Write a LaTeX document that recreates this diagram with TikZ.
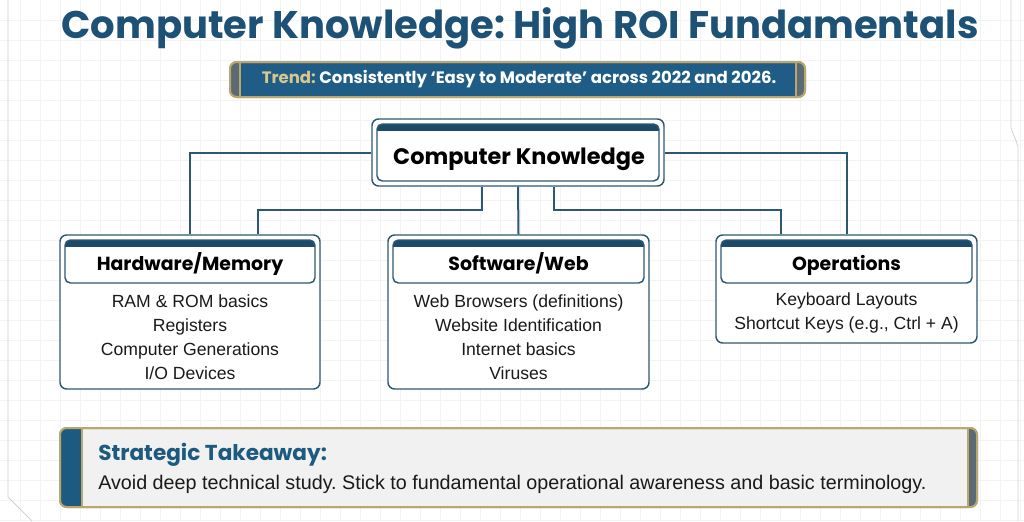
\documentclass[tikz,border=0pt]{standalone}
\usepackage{fontspec}
\setmainfont{Liberation Sans}
\newfontfamily\headfont{Poppins}
\usetikzlibrary{calc}
\frenchspacing
\definecolor{titleblue}{HTML}{1D5276}
\definecolor{stripblue}{HTML}{1C4A6B}
\definecolor{boxblue}{HTML}{2D5872}
\definecolor{connblue}{HTML}{2D5872}
\definecolor{bannerblue}{HTML}{1F5D86}
\definecolor{gold}{HTML}{BBA76E}
\definecolor{goldtext}{HTML}{D8C78E}
\definecolor{greystrip}{HTML}{5B6B75}
\definecolor{takefill}{HTML}{F1F1F1}
\definecolor{takeblue}{HTML}{1D5A80}
\definecolor{textblack}{HTML}{1A1A1A}
\definecolor{gridc}{HTML}{F3F3F3}
\tikzset{
  outerbox/.style={draw=boxblue, line width=1.1pt, rounded corners=5pt, fill=white, inner sep=0pt},
  conn/.style={draw=connblue, line width=1.5pt},
  itemtext/.style={font=\fontsize{13.2}{18}\selectfont, text=textblack, align=center, inner sep=0pt},
  headtext/.style={font=\headfont\bfseries\fontsize{14.2}{16}\selectfont, text=black, inner sep=0pt, anchor=base},
  gridline/.style={draw=gridc, line width=0.5pt},
  frameline/.style={draw=black!18, line width=0.6pt},
}
\newcommand\strippedbox[4]{%
  \begin{scope}
    \clip[rounded corners=4pt] (#1,#2) rectangle (#3,#4);
    \fill[white] (#1,#2) rectangle (#3,#4);
    \fill[stripblue] (#1,#2) rectangle (#3,{#2+7});
  \end{scope}
  \draw[draw=boxblue, line width=1.1pt, rounded corners=4pt] (#1,#2) rectangle (#3,#4);
}
\begin{document}
\begin{tikzpicture}[x=0.75pt,y=-0.75pt]
\useasboundingbox (0,0) rectangle (1024,521);
\fill[white] (0,0) rectangle (1024,521);
\foreach \x in {20,40,...,1020} \draw[gridline] (\x,0) -- (\x,521);
\foreach \y in {20,40,...,520} \draw[gridline] (0,\y) -- (1024,\y);
\draw[frameline] (8,0) -- (8,497) -- (32,521);
\draw[frameline] (1011,0) -- (1011,128) -- (1018,146) -- (1018,521);

% title
\node[font=\headfont\bfseries\fontsize{28.9}{32}\selectfont, text=titleblue, inner sep=0pt] (title) at (520,28) {Computer Knowledge: High ROI Fundamentals};

% trend banner
\node[draw=gold, line width=1.5pt, fill=bannerblue, rounded corners=5pt, minimum width=431.25pt, minimum height=26.25pt, inner sep=0pt] (trend) at (517.5,79.5) {};
\begin{scope}
  \clip[rounded corners=5pt] (230,62) rectangle (805,97);
  \fill[greystrip] (230,62) rectangle (240,97);
  \fill[greystrip] (796,62) rectangle (805,97);
\end{scope}
\draw[draw=gold, line width=1.5pt, rounded corners=5pt] (230,62) rectangle (805,97);
\draw[draw=gold, line width=0.8pt] (240,62) -- (240,97) (796,62) -- (796,97);
\node[font=\headfont\bfseries\fontsize{12.4}{14}\selectfont, text=white, inner sep=0pt] (trendtext) at (519,79.5) {\textcolor{goldtext}{Trend:} Consistently ‘Easy to Moderate’ across 2022 and 2026.};

% root
\node[outerbox, minimum width=219pt, minimum height=50.25pt] (root) at (518,152.5) {};
\strippedbox{377}{124}{659}{181}
\node[font=\headfont\bfseries\fontsize{16.8}{19}\selectfont, text=black, inner sep=0pt, anchor=base] (rootlabel) at (519,164) {Computer Knowledge};

% branch boxes
\node[outerbox, minimum width=195pt, minimum height=115.5pt] (hw) at (190,312) {};
\strippedbox{65}{240}{315}{283}
\node[headtext] (hwlabel) at (190,270.5) {Hardware/Memory};
\node[itemtext] (hwitems) at (190,337) {RAM \& ROM basics\\Registers\\Computer Generations\\I/O Devices};

\node[outerbox, minimum width=195.75pt, minimum height=115.5pt] (sw) at (518.5,312) {};
\strippedbox{393}{240}{644}{283}
\node[headtext] (swlabel) at (518.5,270.5) {Software/Web};
\node[itemtext] (switems) at (518.5,337) {Web Browsers (definitions)\\Website Identification\\Internet basics\\Viruses};

\node[outerbox, minimum width=195.75pt, minimum height=81pt] (op) at (846.5,289) {};
\strippedbox{721}{240}{972}{283}
\node[headtext] (oplabel) at (846.5,270.5) {Operations};
\node[itemtext] (opitems) at (846.5,313) {Keyboard Layouts\\Shortcut Keys (e.g., Ctrl + A)};

% connectors
\draw[conn] (root.west) -| (hw.north);
\draw[conn] (root.east) -| (op.north);
\draw[conn] ($(root.south)+(-36,0)$) -- ++(0,23) -| ($(hw.north)+(68,0)$);
\draw[conn] ($(root.south)+(36,0)$) -- ++(0,23) -| ($(op.north)+(-66,0)$);
\draw[conn] (root.south) -- (sw.north);

% takeaway
\node[draw=gold, line width=1.5pt, fill=takefill, rounded corners=5pt, minimum width=687.75pt, minimum height=59.25pt, inner sep=0pt] (tk) at (518.5,467.5) {};
\begin{scope}
  \clip[rounded corners=5pt] (60,428) rectangle (977,507);
  \fill[takeblue] (60,428) rectangle (82,507);
  \fill[greystrip] (968,428) rectangle (977,507);
\end{scope}
\draw[draw=gold, line width=1.5pt, rounded corners=5pt] (60,428) rectangle (977,507);
\draw[draw=gold, line width=0.8pt] (82,428) -- (82,507) (968,428) -- (968,507);
\node[anchor=west, font=\headfont\bfseries\fontsize{16.2}{19}\selectfont, text=takeblue, inner sep=0pt] (tkhead) at (98,455) {Strategic Takeaway:};
\node[anchor=west, font=\fontsize{14.8}{17}\selectfont, text=textblack, inner sep=0pt] (tkbody) at (98,484) {Avoid deep technical study. Stick to fundamental operational awareness and basic terminology.};
\end{tikzpicture}
\end{document}
